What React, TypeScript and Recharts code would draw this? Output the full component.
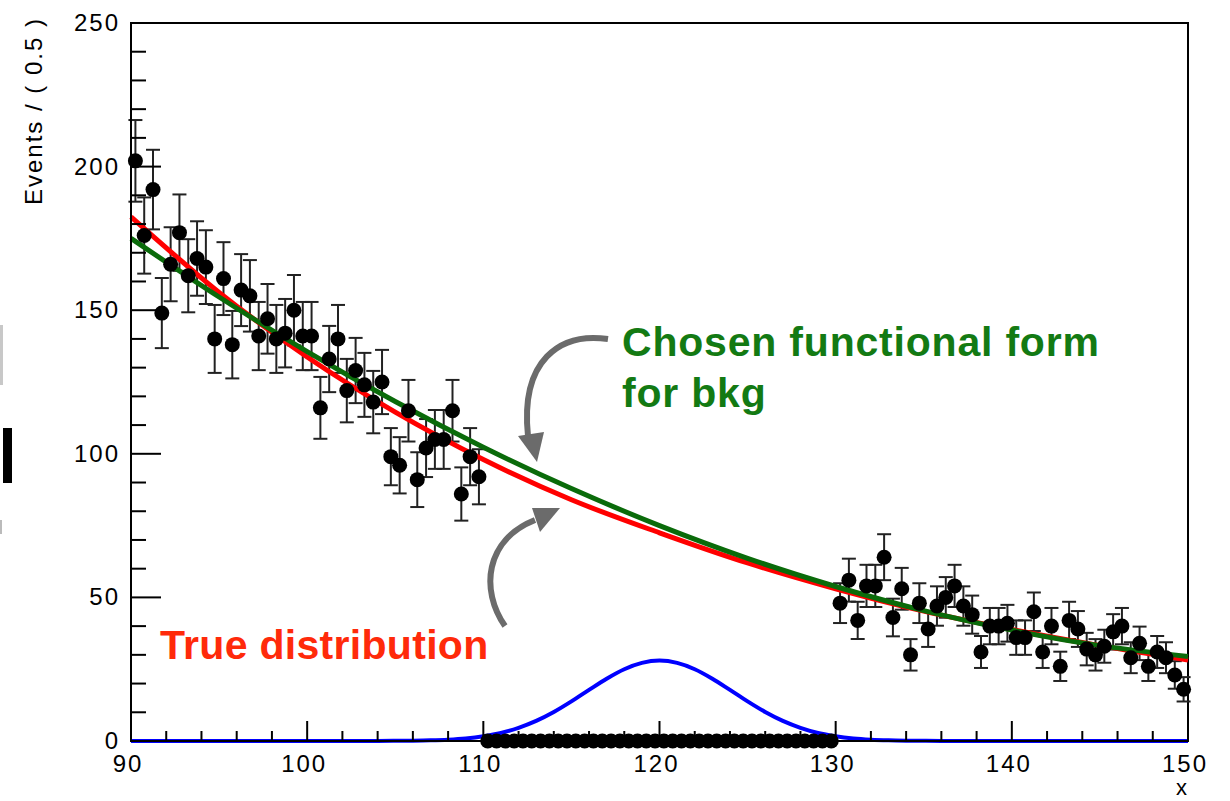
import React from 'react';
import { ComposedChart, Line, Scatter, ErrorBar, XAxis, YAxis, ReferenceArea } from 'recharts';

// Histogram binning (bin width 0.5)
const BIN_WIDTH = 0.5;
const LOW_START = 90;
const MID_START = 110;
const HIGH_START = 130;

// Events per bin, low sideband 90-110
const lowSideband = [
  202, 176, 192, 149, 166, 177, 162, 168, 165, 140,
  161, 138, 157, 155, 141, 147, 140, 142, 150, 141,
  141, 116, 133, 140, 122, 129, 124, 118, 125, 99,
  96, 115, 91, 102, 105, 105, 115, 86, 99, 92,
];
// Blinded signal region 110-130 (drawn as zero)
const blindedRegion = [
  0, 0, 0, 0, 0, 0, 0, 0, 0, 0,
  0, 0, 0, 0, 0, 0, 0, 0, 0, 0,
  0, 0, 0, 0, 0, 0, 0, 0, 0, 0,
  0, 0, 0, 0, 0, 0, 0, 0, 0, 0,
];
// Events per bin, high sideband 130-150
const highSideband = [
  48, 56, 42, 54, 54, 64, 43, 53, 30, 48,
  39, 47, 50, 54, 47, 44, 31, 40, 40, 41,
  36, 36, 45, 31, 40, 26, 42, 39, 32, 30,
  33, 38, 40, 29, 34, 26, 31, 29, 23, 18,
];

// Curves
const curveX = [90, 95, 100, 105, 110, 115, 120, 125, 130, 135, 140, 145, 150];
const trueDist = [182.5, 156.2, 133.7, 114.5, 98.0, 84.0, 72.5, 62.0, 53.0, 45.2, 38.8, 33.2, 28.2];
const chosenBkg = [175, 154.6, 135.6, 118.2, 102.3, 87.9, 75.0, 63.6, 53.8, 45.4, 38.6, 33.2, 29.4];

const signalX = [90, 100, 103, 104, 105, 106, 107, 108, 109, 110, 111, 112, 113, 114, 115, 116, 117, 118, 119, 120,
  121, 122, 123, 124, 125, 126, 127, 128, 129, 130, 131, 132, 133, 134, 135, 136, 137, 140, 150];
const signalY = [0, 0, 0.01, 0.02, 0.05, 0.11, 0.23, 0.47, 0.9, 1.65, 2.8, 4.6, 7.0, 10.1, 13.8, 17.8, 21.7, 25.0, 27.2, 28,
  27.2, 25.0, 21.7, 17.8, 13.8, 10.1, 7.0, 4.6, 2.8, 1.65, 0.9, 0.47, 0.23, 0.11, 0.05, 0.02, 0.01, 0, 0];

// Axis ticks
const xTicks = [90, 92, 94, 96, 98, 100, 102, 104, 106, 108, 110, 112, 114, 116, 118, 120, 122, 124, 126, 128, 130,
  132, 134, 136, 138, 140, 142, 144, 146, 148, 150];
const yTicks = [0, 10, 20, 30, 40, 50, 60, 70, 80, 90, 100, 110, 120, 130, 140, 150, 160, 170, 180, 190, 200,
  210, 220, 230, 240, 250];

const toBins = (start: number, counts: number[]) =>
  counts.map((c, i) => ({ x: start + (i + 0.5) * BIN_WIDTH, y: c, e: Math.sqrt(c) }));

const dataPoints = [...toBins(LOW_START, lowSideband), ...toBins(HIGH_START, highSideband)];
const blindPoints = toBins(MID_START, blindedRegion);
const redData = curveX.map((x, i) => ({ x, y: trueDist[i] }));
const greenData = curveX.map((x, i) => ({ x, y: chosenBkg[i] }));
const blueData = signalX.map((x, i) => ({ x, y: signalY[i] }));

const FONT = '"Liberation Sans", Arial, Helvetica, sans-serif';

const XTick = (props: any) => {
  const { x, y, payload } = props;
  const v = payload.value;
  const major = v % 10 === 0;
  return (
    <g>
      <line x1={x} y1={y} x2={x} y2={y - (major ? 20 : 10)} stroke="#000" strokeWidth={2} />
      {major && (
        <text x={x - 3} y={y + 31} textAnchor="middle" fontSize={24} letterSpacing={2} fontFamily={FONT} fill="#000">
          {v}
        </text>
      )}
    </g>
  );
};

const YTick = (props: any) => {
  const { x, y, payload } = props;
  const v = payload.value;
  const major = v % 50 === 0;
  return (
    <g>
      <line x1={x} y1={y} x2={x + (major ? 30 : 15)} y2={y} stroke="#000" strokeWidth={2} />
      {major && (
        <text x={x - 11} y={y + 8} textAnchor="end" fontSize={24} letterSpacing={2} fontFamily={FONT} fill="#000">
          {v}
        </text>
      )}
    </g>
  );
};

const dot = (p: any) => <circle cx={p.cx} cy={p.cy} r={7.5} fill="#000" />;

export default function App() {
  return (
    <div style={{ position: 'absolute', left: 0, top: 0, width: 1230, height: 801, background: '#fff', overflow: 'hidden' }}>
      <ComposedChart
        width={1230}
        height={801}
        margin={{ top: 23, right: 42, left: 51, bottom: 10 }}
      >
        <XAxis
          type="number"
          dataKey="x"
          domain={[90, 150]}
          ticks={xTicks}
          interval={0}
          tickSize={0}
          tickMargin={0}
          tickLine={false}
          tick={<XTick />}
          height={50}
          axisLine={{ stroke: '#000', strokeWidth: 2 }}
        />
        <YAxis
          type="number"
          dataKey="y"
          domain={[0, 250]}
          ticks={yTicks}
          interval={0}
          tickSize={0}
          tickMargin={0}
          tickLine={false}
          tick={<YTick />}
          width={80}
          axisLine={{ stroke: '#000', strokeWidth: 2 }}
        />
        <ReferenceArea x1={90} x2={150} y1={0} y2={250} fill="none" stroke="#000" strokeWidth={2} ifOverflow="visible" />
        <Scatter data={dataPoints} dataKey="y" shape={dot} isAnimationActive={false}>
          <ErrorBar dataKey="e" direction="y" width={7} stroke="#222" strokeWidth={2} />
        </Scatter>
        <Line data={redData} dataKey="y" type="monotone" stroke="#ff0000" strokeWidth={5} dot={false} isAnimationActive={false} />
        <Line data={greenData} dataKey="y" type="monotone" stroke="#0a6b0a" strokeWidth={5} dot={false} isAnimationActive={false} />
        <Line data={blueData} dataKey="y" type="monotone" stroke="#0000ff" strokeWidth={4} dot={false} isAnimationActive={false} />
        <Scatter data={blindPoints} dataKey="y" shape={dot} isAnimationActive={false} />
      </ComposedChart>
      <svg width={1230} height={801} style={{ position: 'absolute', left: 0, top: 0, pointerEvents: 'none' }}>
        <text
          transform="translate(42,17) rotate(-90)"
          textAnchor="end"
          fontSize={24}
          letterSpacing={2}
          fontFamily={FONT}
          fill="#000"
        >
          Events / ( 0.5 )
        </text>
        <text x={1187} y={795} textAnchor="end" fontSize={22} fontFamily={FONT} fill="#000">x</text>
        <text x={622} y={356} fontSize={41} fontWeight="bold" letterSpacing={0.8} fontFamily={FONT} fill="#137a13">
          Chosen functional form
        </text>
        <text x={622} y={407} fontSize={41} fontWeight="bold" letterSpacing={0.8} fontFamily={FONT} fill="#137a13">
          for bkg
        </text>
        <text x={160} y={659} fontSize={41} fontWeight="bold" letterSpacing={0.3} fontFamily={FONT} fill="#ff2a0a">
          True distribution
        </text>
        <path d="M 608 339 C 560 332, 520 360, 528 436" fill="none" stroke="#6b6b6b" strokeWidth={6} />
        <polygon points="537,462 518,436 544,432" fill="#6b6b6b" />
        <path d="M 505 626 C 480 590, 485 540, 535 520" fill="none" stroke="#6b6b6b" strokeWidth={6} />
        <polygon points="560,508 532,508 540,532" fill="#6b6b6b" />
        <rect x={0} y={325} width={3} height={60} fill="#c8c8c8" />
        <rect x={3} y={428} width={9} height={55} fill="#000" />
        <rect x={0} y={520} width={2} height={14} fill="#bbb" />
      </svg>
    </div>
  );
}
